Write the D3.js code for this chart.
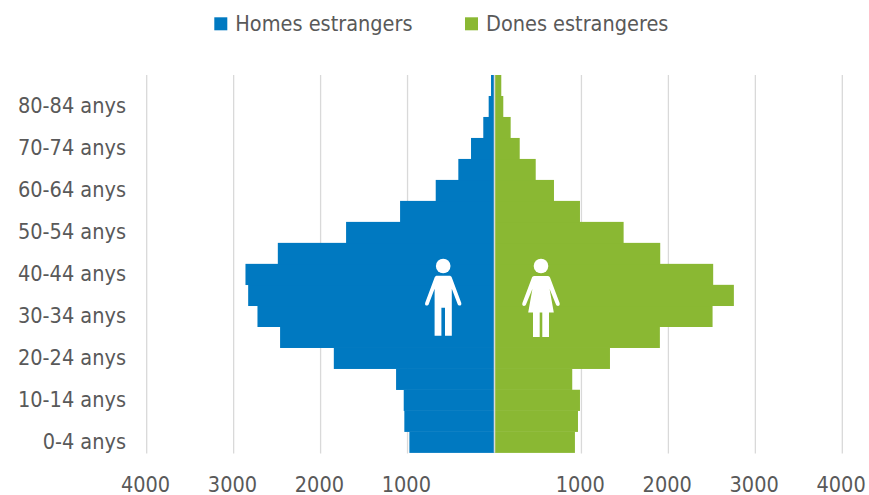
<!DOCTYPE html>
<html><head><meta charset="utf-8">
<script src="https://cdnjs.cloudflare.com/ajax/libs/d3/7.8.5/d3.min.js"></script>
<style>
html,body{margin:0;padding:0;background:#fff;overflow:hidden}
svg{display:block}
text{font-family:"DejaVu Sans Condensed","DejaVu Sans",sans-serif;font-stretch:condensed;font-size:21.5px;fill:#595959}
</style></head><body><svg id="c" width="869" height="495"></svg>
<script>
const categories = ["0-4 anys","5-9 anys","10-14 anys","15-19 anys","20-24 anys","25-29 anys","30-34 anys","35-39 anys","40-44 anys","45-49 anys","50-54 anys","55-59 anys","60-64 anys","65-69 anys","70-74 anys","75-79 anys","80-84 anys","85+ anys"];
const homes = [979,1037,1044,1132,1848,2466,2726,2833,2864,2492,1707,1086,676,416,270,129,67,40];
const dones = [925,960,983,894,1328,1902,2508,2753,2515,1906,1485,983,684,474,290,186,101,78];
const xTicks = [-4000,-3000,-2000,-1000,0,1000,2000,3000,4000];
const yLabels = ["0-4 anys","10-14 anys","20-24 anys","30-34 anys","40-44 anys","50-54 anys","60-64 anys","70-74 anys","80-84 anys"];
const seriesNames = ["Homes estrangers","Dones estrangeres"];
const colors = ["#0079c1","#8ab833"];

const svg = d3.select("#c");
const x = d3.scaleLinear().domain([-4000,4000]).range([146.7,842.3]);
const y = d3.scaleBand().domain(categories).range([452.7,75]).padding(0);

// gridlines
svg.append("g").selectAll("line").data(xTicks.filter(d=>d!==0)).join("line")
  .attr("x1",d=>x(d)).attr("x2",d=>x(d)).attr("y1",75).attr("y2",453.5)
  .attr("stroke","#d9d9d9").attr("stroke-width",1.3);

// bars
svg.append("g").selectAll("rect").data(homes).join("rect")
  .attr("x",d=>x(-d)).attr("width",d=>x(0)-x(-d))
  .attr("y",(d,i)=>y(categories[i])).attr("height",y.bandwidth()+0.2)
  .attr("fill",colors[0]);
svg.append("g").selectAll("rect").data(dones).join("rect")
  .attr("x",x(0)).attr("width",d=>x(d)-x(0))
  .attr("y",(d,i)=>y(categories[i])).attr("height",y.bandwidth()+0.2)
  .attr("fill",colors[1]);

// central axis line
svg.append("line").attr("x1",x(0)).attr("x2",x(0)).attr("y1",75).attr("y2",452.7)
  .attr("stroke","#d9d9d9").attr("stroke-width",1.5);

// axes
const xAxis = svg.append("g").attr("transform","translate(-1.7,476)")
  .call(d3.axisBottom(x).tickValues(xTicks).tickSize(0).tickPadding(0)
    .tickFormat(d=>d===0?"":String(Math.abs(d))));
xAxis.select(".domain").remove();
xAxis.selectAll("text").attr("y",0).attr("dy","0.74em");

const yAxis = svg.append("g").attr("transform","translate(126,0)")
  .call(d3.axisLeft(y).tickValues(yLabels).tickSize(0).tickPadding(0));
yAxis.select(".domain").remove();
xAxis.selectAll("text,line").attr("font-family",null).attr("font-size",null);
yAxis.selectAll("text").attr("font-family",null).attr("font-size",null);
xAxis.attr("font-family",null).attr("font-size",null);
yAxis.attr("font-family",null).attr("font-size",null);

// legend
const legend = svg.append("g");
const legendX = [214.3,465];
seriesNames.forEach((n,i)=>{
  legend.append("rect").attr("x",legendX[i]).attr("y",17.3).attr("width",13).attr("height",13).attr("fill",colors[i]);
  legend.append("text").attr("x",legendX[i]+21).attr("y",31).text(n);
});

// pictograms
const man = "M-6.5,-60 C-7,-60 -8,-59.5 -8.5,-58.5 L-18,-33 C-19,-30 -15.5,-29 -14.5,-31.5 L-8.6,-47 L-8.6,0 L-1.8,0 L-1.8,-28 L1.8,-28 L1.8,0 L8.6,0 L8.6,-47 L14.5,-31.5 C15.5,-29 19,-30 18,-33 L8.5,-58.5 C8,-59.5 7,-60 6.5,-60 Z";
const woman = "M-6.5,-61 C-7.5,-61 -8.6,-60.5 -9,-59.5 L-18.6,-34 C-19.6,-31 -16,-30 -15,-32.5 L-8.6,-48 L-12.8,-24.5 L-8,-24.5 L-8,0 L-1.3,0 L-1.3,-24.5 L1.3,-24.5 L1.3,0 L8,0 L8,-24.5 L12.8,-24.5 L8.6,-48 L15,-32.5 C16,-30 19.6,-31 18.6,-34 L9,-59.5 C8.6,-60.5 7.5,-61 6.5,-61 Z";
[[443.2,335.7,man],[541,337,woman]].forEach(([cx,by,p])=>{
  const g = svg.append("g").attr("transform",`translate(${cx},${by})`).attr("fill","#fff");
  g.append("path").attr("d",p);
  g.append("circle").attr("cx",0).attr("cy",by===335.7?-69.7:-71).attr("r",7.3);
});
</script></body></html>
